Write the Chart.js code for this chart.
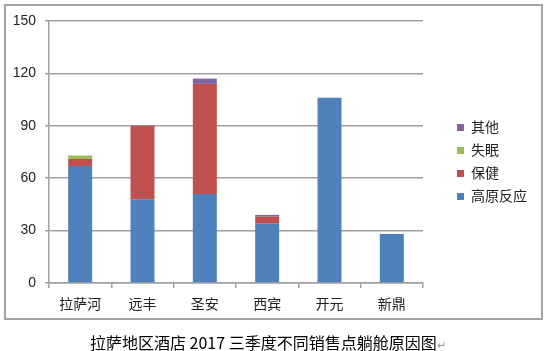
<!DOCTYPE html>
<html>
<head>
<meta charset="utf-8">
<script src="https://cdn.jsdelivr.net/npm/chart.js@4"></script>
<style>
  body { margin: 0; background: #fff; }
  #wrap { position: relative; width: 544px; height: 351px; overflow: hidden; }
  #box { position: absolute; left: 4px; top: 4px; width: 535px; height: 312px; border: 2px solid #a3a3a3; }
  canvas { position: absolute; left: 0; top: 0; }
  #legend { position: absolute; left: 457px; top: 116px; font: 14px "Noto Sans CJK SC", sans-serif; color: #222; }
  #legend div { height: 23px; line-height: 20px; white-space: nowrap; }
  #legend span { display: inline-block; width: 7px; height: 7px; margin-right: 7px; vertical-align: 1px; }
  #caption { position: absolute; left: 90px; top: 331px; font: 16px "Noto Sans CJK SC", sans-serif; color: #000; line-height: 22px; white-space: nowrap; }
  #caption small { color: #999; font-size: 11px; }
</style>
</head>
<body>
<div id="wrap">
  <div id="box"></div>
  <canvas id="c" width="544" height="351"></canvas>
  <div id="legend"></div>
  <div id="caption">拉萨地区酒店 2017 三季度不同销售点躺舱原因图<small>↵</small></div>
</div>
<script>
var categories = ['拉萨河', '远丰', '圣安', '西宾', '开元', '新鼎'];
var seriesNames = ['高原反应', '保健', '失眠', '其他'];
var altitude = [67, 48, 51, 34, 106, 28];
var health = [4, 42, 63, 4, 0, 0];
var insomnia = [2, 0, 0, 0, 0, 0];
var other = [0, 0, 3, 1, 0, 0];
var yTicks = [0, 30, 60, 90, 120, 150];

var colors = ['#4F81BD', '#C0504D', '#9BBB59', '#8064A2'];
var values = [altitude, health, insomnia, other];
var gridColor = '#a0a0a0';

var ctx = document.getElementById('c').getContext('2d');
var chart = new Chart(ctx, {
    type: 'bar',
    data: {
        labels: categories,
        datasets: seriesNames.map(function(name, i) {
            return {
                label: name,
                data: values[i],
                backgroundColor: colors[i],
                borderWidth: 0,
                barPercentage: 0.385,
                categoryPercentage: 1
            };
        })
    },
    options: {
        responsive: false,
        animation: false,
        layout: { padding: { left: 0, right: 121, top: 21, bottom: 28 } },
        plugins: {
            legend: { display: false },
            tooltip: { enabled: false }
        },
        scales: {
            x: {
                stacked: true,
                grid: { display: true, drawOnChartArea: false, offset: true, tickLength: 5, color: gridColor, lineWidth: 1.5 },
                border: { color: gridColor, width: 1.5 },
                ticks: { color: '#222', padding: 7, font: { family: '"Noto Sans CJK SC", sans-serif', size: 14 } },
                afterFit: function(scale) { scale.height = 40; }
            },
            y: {
                stacked: true,
                min: 0,
                max: 150,
                afterBuildTicks: function(scale) {
                    scale.ticks = yTicks.map(function(v) { return { value: v }; });
                },
                grid: { color: gridColor, lineWidth: 1.5, tickLength: 4 },
                border: { color: gridColor, width: 1.5 },
                ticks: { color: '#222', padding: 9, font: { family: '"Liberation Sans", sans-serif', size: 14 } },
                afterFit: function(scale) { scale.width = 49; }
            }
        }
    }
});

// legend, top to bottom in reverse stack order
var legend = document.getElementById('legend');
for (var i = seriesNames.length - 1; i >= 0; i--) {
    var row = document.createElement('div');
    row.innerHTML = '<span style="background:' + colors[i] + '"></span>' + seriesNames[i];
    legend.appendChild(row);
}
</script>
</body>
</html>
